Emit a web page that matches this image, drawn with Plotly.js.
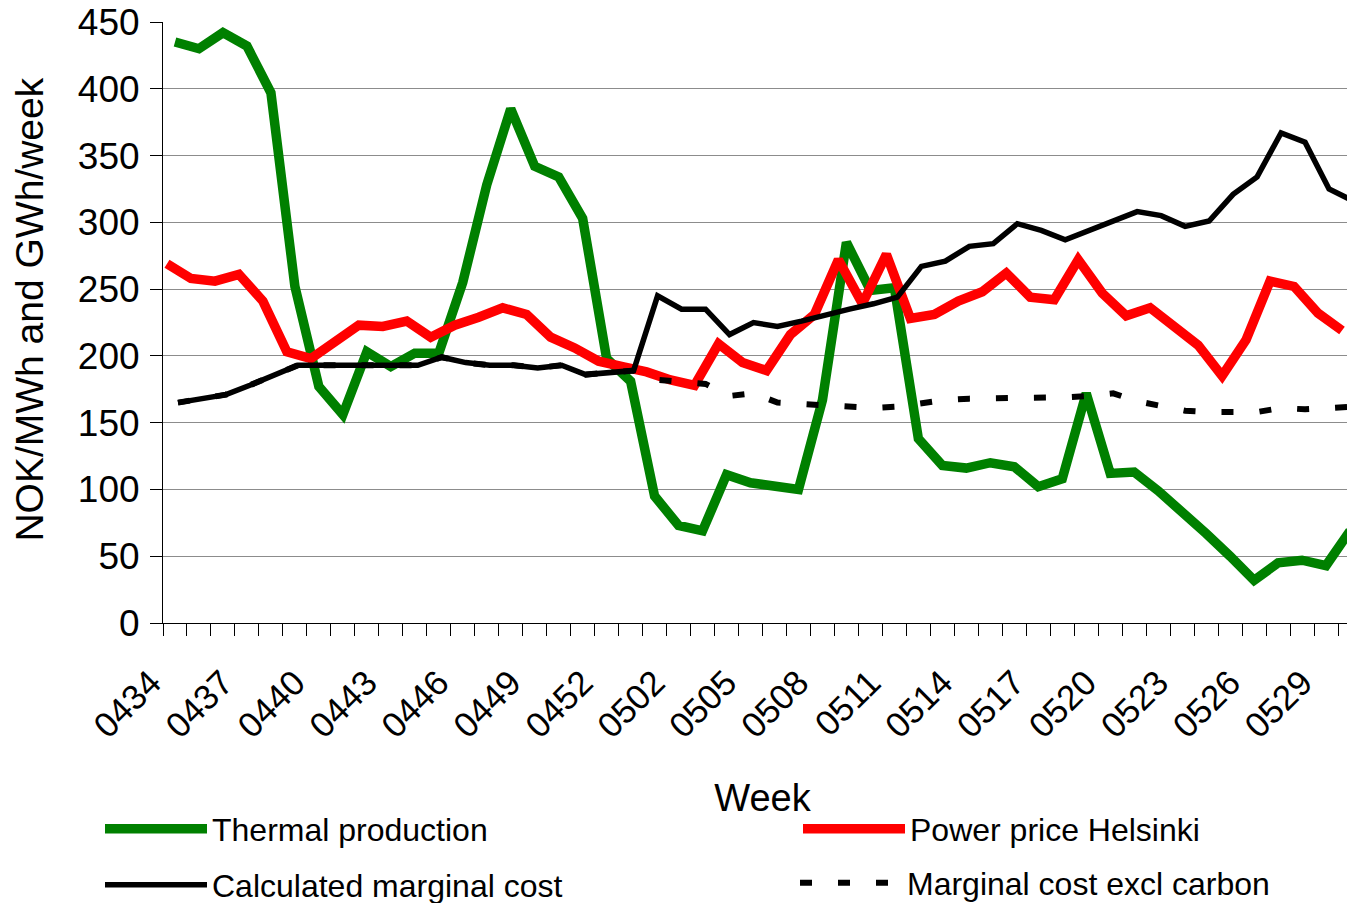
<!DOCTYPE html>
<html>
<head>
<meta charset="utf-8">
<script src="https://cdn.plot.ly/plotly-3.0.1.min.js"></script>
<style>
  html, body { margin: 0; padding: 0; overflow: hidden; background: #fff; }
  #chart { width: 1362px; height: 903px; }
</style>
</head>
<body>
<div id="chart"></div>
<script>
// Week labels (yyww)
const weeks = ['0434','0435','0436','0437','0438','0439','0440','0441','0442','0443',
               '0444','0445','0446','0447','0448','0449','0450','0451','0452','0453',
               '0501','0502','0503','0504','0505','0506','0507','0508','0509','0510',
               '0511','0512','0513','0514','0515','0516','0517','0518','0519','0520',
               '0521','0522','0523','0524','0525','0526','0527','0528','0529','0530'];

// Thermal production, GWh/week
const thermalProduction = [435,430,442,432,397,252,177,156,203,192,
                           202,202,255,328,385,342,334,303,198,181,
                           95,73,69,111,105,102,100,167,285,249,
                           251,138,118,116,120,117,102,108,172,112,
                           113,99,84,67,50,32,45,47,43,69];

// Power price Helsinki, NOK/MWh
const powerPriceHelsinki = [269,258,256,261,241,203,198,210,223,222,
                            226,214,223,229,236,231,214,206,196,192,
                            188,182,178,209,195,189,216,231,272,239,
                            276,228,231,241,248,262,244,242,272,247,
                            230,236,222,208,185,212,256,252,232,219];

// Calculated marginal cost, NOK/MWh
const calculatedMarginalCost = [165,168,171,178,186,193,193,193,193,193,
                                193,199,195,193,193,191,193,186,187,189,
                                245,235,235,216,225,222,226,231,235,239,
                                244,267,271,282,284,299,294,287,294,301,
                                308,305,297,301,321,334,367,360,325,316];

// Marginal cost excluding carbon, NOK/MWh
const marginalCostExclCarbon = [165,168,171,178,186,193,193,193,193,193,
                                193,199,195,193,193,191,193,186,187,189,
                                182,181,179,170,172,165,164,162,162,161,
                                162,165,167,168,168,168,168,169,170,172,
                                166,163,159,158,158,158,161,160,161,162];

// Labels shown on the x axis: every third week
const tickLabels = weeks.map((w, i) => (i % 3 === 0 ? w : ''));

const FONT = 'Liberation Sans, Arial, sans-serif';

const traces = [
  {
    name: 'Thermal production', x: weeks, y: thermalProduction,
    type: 'scatter', mode: 'lines', xaxis: 'x', yaxis: 'y',
    line: { color: '#008000', width: 9.5 }, legend: 'legend'
  },
  {
    name: 'Power price Helsinki', x: weeks, y: powerPriceHelsinki,
    type: 'scatter', mode: 'lines', xaxis: 'x2', yaxis: 'y',
    line: { color: '#ff0000', width: 9.5 }, legend: 'legend2'
  },
  {
    name: 'Marginal cost excl carbon', x: weeks, y: marginalCostExclCarbon,
    type: 'scatter', mode: 'lines', xaxis: 'x3', yaxis: 'y',
    line: { color: '#000000', width: 6, dash: '12px,26px' }, legend: 'legend4'
  },
  {
    name: 'Calculated marginal cost', x: weeks, y: calculatedMarginalCost,
    type: 'scatter', mode: 'lines', xaxis: 'x3', yaxis: 'y',
    line: { color: '#000000', width: 5.5 }, legend: 'legend3'
  }
];

const overlayAxis = (range) => ({
  type: 'category', categoryorder: 'array', categoryarray: weeks,
  overlaying: 'x', anchor: 'y', range: range, visible: false, fixedrange: true
});

const legendBase = (x, y) => ({
  x: x, y: y, xref: 'container', yref: 'container',
  xanchor: 'left', yanchor: 'middle',
  bgcolor: 'rgba(0,0,0,0)', borderwidth: 0,
  font: { family: FONT, size: 32, color: '#000' },
  itemwidth: 102, itemclick: false, itemdoubleclick: false
});

const layout = {
  width: 1362, height: 903,
  margin: { l: 163.3, r: 0, t: 21.7, b: 279.5, autoexpand: false },
  paper_bgcolor: '#ffffff', plot_bgcolor: '#ffffff',
  font: { family: FONT, color: '#000' },
  xaxis: {
    type: 'category', categoryorder: 'array', categoryarray: weeks,
    range: [-0.5, 49.5], automargin: false,
    tickmode: 'array', tickvals: weeks, ticktext: tickLabels,
    tickson: 'boundaries', ticks: 'outside', ticklen: 12, tickwidth: 1, tickcolor: '#000',
    tickangle: -45, tickfont: { family: FONT, size: 35, color: '#000' },
    ticklabelshift: -24, ticklabelstandoff: 24,
    showline: true, linecolor: '#000', linewidth: 1, showgrid: false, zeroline: false,
    title: { text: 'Week', font: { family: FONT, size: 38, color: '#000' }, standoff: 40 },
    fixedrange: true
  },
  // slight horizontal offsets of individual series as in the original chart
  xaxis2: overlayAxis([-0.166, 49.834]),
  xaxis3: overlayAxis([-0.625, 49.375]),
  yaxis: {
    range: [0, 450], dtick: 50, tick0: 0, automargin: false,
    ticks: 'outside', ticklen: 12, tickwidth: 1, tickcolor: '#000',
    tickfont: { family: FONT, size: 37, color: '#000' }, ticklabelstandoff: 3,
    showline: true, linecolor: '#000', linewidth: 1,
    showgrid: true, gridcolor: '#8c8c8c', gridwidth: 1, zeroline: false,
    fixedrange: true
  },
  annotations: [{
    text: 'NOK/MWh and GWh/week', textangle: -90,
    xref: 'paper', yref: 'paper', x: -0.1112, y: 0.521,
    xanchor: 'center', yanchor: 'middle', showarrow: false,
    font: { family: FONT, size: 39, color: '#000' }
  }],
  showlegend: true,
  legend: legendBase(100 / 1362, 1 - 829 / 903),
  legend2: legendBase(798 / 1362, 1 - 829 / 903),
  legend3: legendBase(100 / 1362, 1 - 885 / 903),
  legend4: legendBase(795 / 1362, 1 - 883 / 903)
};

Plotly.newPlot('chart', traces, layout, { displayModeBar: false, staticPlot: true });
</script>
</body>
</html>
